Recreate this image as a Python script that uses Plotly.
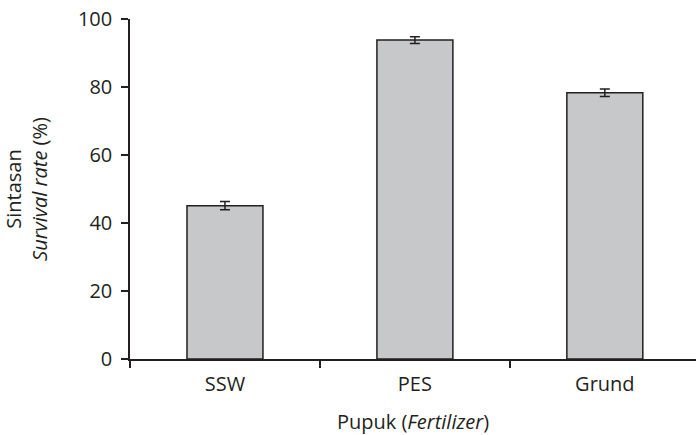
import plotly.graph_objects as go

categories = ["SSW", "PES", "Grund"]
survival = [45.1, 93.8, 78.3]
errors = [1.2, 1.0, 1.1]
y_ticks = [0, 20, 40, 60, 80, 100]

ink = "#231f20"
font_family = "Open Sans, DejaVu Sans, sans-serif"
fs = 20

fig = go.Figure(
    go.Bar(
        x=categories,
        y=survival,
        width=0.4,
        marker=dict(color="#c7c8ca", line=dict(color=ink, width=1.5)),
        error_y=dict(type="data", array=errors, visible=True, color=ink, thickness=1.5, width=5),
    )
)

fig.update_layout(
    width=696,
    height=435,
    margin=dict(l=130, r=0, t=19, b=76),
    paper_bgcolor="white",
    plot_bgcolor="white",
    showlegend=False,
    font=dict(family=font_family, size=fs, color=ink),
)

fig.update_xaxes(
    type="category",
    range=[-0.5, 2.48],
    tickson="boundaries",
    ticks="outside",
    ticklen=7,
    tickwidth=1.5,
    tickcolor=ink,
    showline=True,
    linecolor=ink,
    linewidth=1.5,
    showgrid=False,
    ticklabelstandoff=6,
    tickfont=dict(size=fs, color=ink),
    title=dict(text="Pupuk (<i>Fertilizer</i>)", font=dict(size=fs, color=ink), standoff=22),
)

fig.update_yaxes(
    range=[0, 100],
    tickvals=y_ticks,
    ticks="outside",
    ticklen=7,
    tickwidth=1.5,
    tickcolor=ink,
    showline=True,
    linecolor=ink,
    linewidth=1.5,
    showgrid=False,
    zeroline=False,
    ticklabelstandoff=5,
    tickfont=dict(size=fs, color=ink),
    title=dict(text="Sintasan<br><i>Survival rate</i> (%)", font=dict(size=fs, color=ink), standoff=26),
)

fig.write_html("out.html")
